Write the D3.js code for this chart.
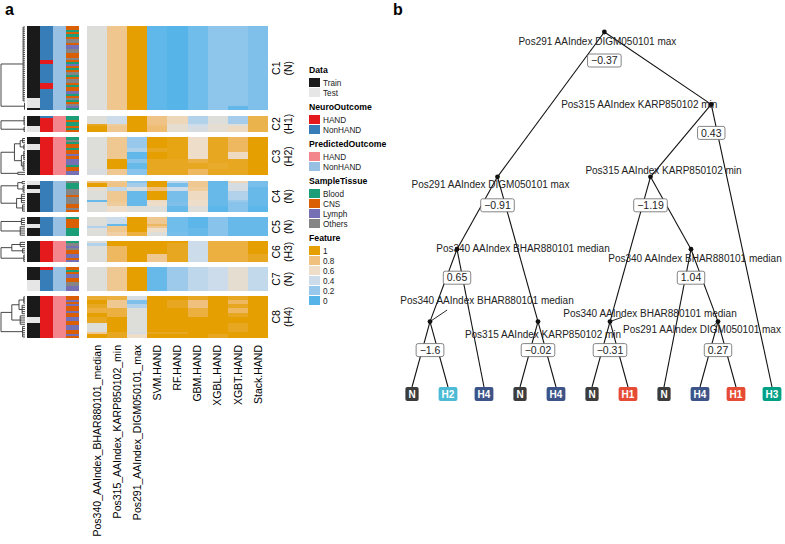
<!DOCTYPE html>
<html>
<head>
<meta charset="utf-8">
<script src="https://cdn.jsdelivr.net/npm/d3@7"></script>
<style>
  body { margin: 0; background: #fff; }
  svg { font-family: "Liberation Sans", Arial, Helvetica, sans-serif; }
</style>
</head>
<body>
<svg id="chart" width="785" height="544"></svg>
<script>
// ---------------- data: panel a ----------------
const clusterNames = ["C1", "C2", "C3", "C4", "C5", "C6", "C7", "C8"];
const clusterOutcomes = ["(N)", "(H1)", "(H2)", "(N)", "(N)", "(H3)", "(N)", "(H4)"];

const featureNames = [
    "Pos340_AAIndex_BHAR880101_median", "Pos315_AAIndex_KARP850102_min", "Pos291_AAIndex_DIGM050101_max",
    "SVM.HAND", "RF.HAND", "GBM.HAND", "XGBL.HAND", "XGBT.HAND", "Stack.HAND"
];

// one character per sample: T = Train, t = Test
const sampleData = [
    "TTTTTTTTTTTTTTTTTTTTTTTTTTTTTTTTTTtttttT",
    "TTTTTttt",
    "TTTtttTTTTTTTTTTTT",
    "ttTTttTTTTTTTTT",
    "TTTttTTTT",
    "TTTTTTTTTT",
    "TTTTTTttttt",
    "TTTTTTTTTTtttTTTTTTT"
];
// H = HAND, N = NonHAND
const sampleNeuro = [
    "NNNNNNNNNNNNNNNNHHNNNNNNNNNHHHNNNNNNNNNN",
    "NHHHHHHH",
    "HHHHHHHHHHHHHHHHHH",
    "NNNNNNNNNNNNNNN",
    "NNNNNNNNN",
    "HHHHHHHHHH",
    "HNNNNNNNNNN",
    "HHHHHHHHHHHHHHHHHHHH"
];
const samplePred = [
    "NNNNNNNNNNNNNNNNNNNNNNNNNNNNNNNNNNNNNNNN",
    "HHHHHHHH",
    "HHHHHHHHHHHHHHHHHH",
    "NNNNNNNNNNNNNNN",
    "NNNNNNNNN",
    "HHHHHHHHHH",
    "NNNNNNNNNNN",
    "HHHHHHHHHHHHHHHHHHHH"
];
// B = Blood, C = CNS, L = Lymph, O = Others
const sampleTissue = [
    "CCBCBCOOCLLOOCCOCBLCBCOBCOOCBCCLBCOBCOLB",
    "BBCBBCBC",
    "BOBCCBCCLCLLLBCCLL",
    "OBBBOOOCOOOCCOC",
    "BCCCCBBBB",
    "BOLOCCLLCL",
    "CBCLLCCOOLL",
    "CCLCLCCLCCLLCCLLCCLC"
];

// feature bands per cluster: [number of samples, then one value per feature]
const featureBands = [
    [[38, .5, .76, 1, .03, 0, .08, .17, .17, .12],
     [2, .5, .76, 1, .03, 0, .08, .17, .04, .12]],
    [[4, .5, .4, 1, .78, .64, .3, .5, .25, .88],
     [1, .95, .72, 1, .8, .55, .4, .55, .5, .88],
     [3, 1, .75, 1, .82, .55, .45, .54, .62, .88]],
    [[5, .5, .75, .2, 1, .97, .6, .95, .85, 1],
     [2, .5, .75, .28, .95, .97, .6, .95, .85, 1],
     [3, .5, .75, .03, 1, .97, .6, .95, .62, 1],
     [2, .5, 1, .15, .95, .95, .9, .95, .95, 1],
     [3, .5, 1, .05, .95, .95, .95, .93, .95, 1],
     [3, .47, .75, .15, .95, .95, .85, .95, .95, 1]],
    [[1, .8, .75, .15, 1, .35, .75, .05, .65, .1],
     [2, 1, .78, .25, 1, .1, .75, .05, .45, .1],
     [2, .55, .35, .5, .8, .4, .72, .05, .45, .05],
     [4, .5, .75, .05, 1, .1, .62, .05, .3, .05],
     [1, .05, .75, .05, .62, .1, .6, .05, .2, .05],
     [2, .5, .72, .05, .6, .12, .6, .05, .15, .05],
     [3, .5, .6, .5, .5, .05, .5, .02, .15, .02]],
    [[3, .5, .4, 1, .75, .08, .02, .15, .05, .05],
     [1, .5, .05, 1, .85, .08, .02, .15, .05, .05],
     [1, .3, .75, 1, .75, .08, .02, .15, .05, .05],
     [2, .5, .75, 1, .6, .08, .05, .15, .05, .05],
     [2, .5, .7, .9, .5, .1, .05, .15, .05, .05]],
    [[1, .5, 1, 1, 1, 1, .4, .9, .9, 1],
     [1, .3, 1, 1, 1, .95, .4, .9, .9, 1],
     [4, .5, .85, 1, 1, .95, .4, .9, .9, 1],
     [4, .5, .85, 1, .75, .95, .4, .9, .9, .95]],
    [[11, .5, .75, 1, .05, .22, .35, .4, .55, .36]],
    [[2, .92, .9, .45, 1, 1, .95, 1, .95, 1],
     [2, 1, .75, .12, 1, .95, .8, 1, .85, 1],
     [2, .95, .75, .3, 1, .95, .8, 1, .95, 1],
     [2, .9, .9, .5, 1, 1, .9, 1, .85, 1],
     [2, 1, .9, .5, 1, 1, .9, 1, .95, 1],
     [3, .95, 1, .5, 1, 1, 1, 1, 1, 1],
     [4, .5, 1, .5, 1, 1, 1, 1, .95, 1],
     [1, .75, .95, .45, .95, .95, 1, 1, 1, 1],
     [2, 1, .95, .6, 1, 1, 1, .95, 1, 1]]
];

// row dendrograms: [height, children...]; "a-b" = leaves a..b
const clusterTrees = [
    [1, [0.08, "0-35"], [0.02, "36-39"]],
    [1, [0.04, "0-4"], [0.04, "5-7"]],
    [1, [0.44, [0.2, [0.1, "0-2"], [0.05, "3-5"]], [0.15, [0.05, "6-10"], [0.08, "11-15"]]], [0.3, "16-17"]],
    [1, [0.3, [0.12, "0-1"], [0.08, "2-5"]], [0.35, [0.15, "6-10"], [0.1, "11-14"]]],
    [1, [0.15, "0-3"], [0.2, "4-8"]],
    [1, [0.55, [0.2, "0-2"], [0.1, "3-5"]], [0.05, "6-9"]],
    null,
    [1, [0.55, [0.25, [0.05, "0-3"], [0.12, "4-8"]], [0.2, "9-13"]], [0.1, "14-19"]]
];

const legendData = ["Train", "Test"];
const legendNeuro = ["HAND", "NonHAND"];
const legendPred = ["HAND", "NonHAND"];
const legendTissue = ["Blood", "CNS", "Lymph", "Others"];
const legendFeature = [1, 0.8, 0.6, 0.4, 0.2, 0];

// ---------------- data: panel b ----------------
const splitVars = ["Pos291 AAIndex DIGM050101 max", "Pos315 AAIndex KARP850102 min", "Pos340 AAIndex BHAR880101 median"];
// [split variable, split value, left, right]; strings are terminal classes
const decisionTree = [0, "\u22120.37",
    [0, "\u22120.91",
        [2, "0.65",
            [2, "\u22121.6", "N", "H2"],
            "H4"],
        [1, "\u22120.02", "N", "H4"]],
    [1, "0.43",
        [1, "\u22121.19",
            [2, "\u22120.31", "N", "H1"],
            [2, "1.04", "N", [0, "0.27", "H4", "H1"]]],
        "H3"]];

// ---------------- styles ----------------
const dataColor = { T: "#1a1a1a", t: "#e6e6e6" };
const outcomeColor = { H: "#e41a1c", N: "#377eb8" };
const predColor = { H: "#f2868c", N: "#98c0e2" };
const tissueColor = { B: "#1b9e77", C: "#d95f02", L: "#7570b3", O: "#858585" };
const classColor = { N: "#3c3c3c", H1: "#e64b35", H2: "#4dbbd5", H3: "#00a087", H4: "#3c5488" };
const featureColor = d3.scaleLinear()
    .domain([0, 0.2, 0.4, 0.6, 0.8, 1])
    .range(["#56b4e9", "#98c8eb", "#ccdceb", "#eeddc8", "#efc07e", "#e69f00"])
    .clamp(true);

// internal nodes in pre-order: label offset from node point
const labelOffsets = [[-7, 9], [-7, 8], [66, -1], [57, -21], [5, 13], [-72, 0], [13, -6], [40, -8], [4, 9], [-16, 8]];
const leaderNodes = [3, 7, 9];

const svg = d3.select("#chart");

svg.append("text").attr("x", 5).attr("y", 15).attr("font-size", 16).attr("font-weight", "bold").text("a");
svg.append("text").attr("x", 393).attr("y", 15).attr("font-size", 16).attr("font-weight", "bold").text("b");

// ---------------- panel a ----------------
const gapRows = 2.4;
const counts = sampleData.map((s) => s.length);
const starts = d3.cumsum([0].concat(counts)).slice(0, -1).map((v, i) => v + i * gapRows);
const totalRows = d3.sum(counts) + gapRows * (counts.length - 1);
const y = d3.scaleLinear().domain([0, totalRows]).range([26, 338]);

const annotX = d3.scaleBand().domain(["data", "neuro", "pred", "tissue"]).range([27, 79]);
const featX = d3.scaleBand().domain(featureNames).range([87, 268]);
const dendroX = d3.scaleLinear().domain([0, 1]).range([25, 1]);

const heat = svg.append("g").attr("shape-rendering", "crispEdges");
const annotCols = [
    ["data", sampleData, dataColor],
    ["neuro", sampleNeuro, outcomeColor],
    ["pred", samplePred, predColor],
    ["tissue", sampleTissue, tissueColor]
];

clusterNames.forEach((name, ci) => {
    const top = starts[ci];
    // annotation columns
    annotCols.forEach(([key, arr, cmap]) => {
        heat.append("g")
            .selectAll("rect")
            .data(arr[ci].split(""))
            .join("rect")
            .attr("x", annotX(key))
            .attr("width", annotX.bandwidth())
            .attr("y", (d, i) => y(top + i))
            .attr("height", (d, i) => y(top + i + 1) - y(top + i))
            .attr("fill", (d) => cmap[d]);
    });

    // feature heatmap
    let offset = top;
    featureBands[ci].forEach((band) => {
        const [n, ...vals] = band;
        heat.append("g")
            .selectAll("rect")
            .data(vals)
            .join("rect")
            .attr("x", (d, j) => featX(featureNames[j]))
            .attr("width", featX.bandwidth())
            .attr("y", y(offset))
            .attr("height", y(offset + n) - y(offset))
            .attr("fill", (d) => featureColor(d));
        offset += n;
    });

    // cluster labels
    const mid = (y(top) + y(top + counts[ci])) / 2;
    svg.append("text")
        .attr("transform", `translate(280,${mid}) rotate(-90)`)
        .attr("text-anchor", "middle")
        .attr("font-size", 10.5)
        .text(name);
    svg.append("text")
        .attr("transform", `translate(292,${mid}) rotate(-90)`)
        .attr("text-anchor", "middle")
        .attr("font-size", 10.5)
        .text(clusterOutcomes[ci]);

    // dendrogram
    if (clusterTrees[ci]) drawDendro(clusterTrees[ci], ci);
});

function drawDendro(node, ci) {
    const g = svg.append("g").attr("stroke", "#333").attr("stroke-width", 0.9).attr("fill", "none");
    const leafY = (i) => y(starts[ci] + i + 0.5);

    function walk(n) {
        if (typeof n === "number") return { x: dendroX(0), y: leafY(n) };
        const [h, ...kids] = n;
        let children = [];
        kids.forEach((k) => {
            if (typeof k === "string") {
                const [a, b] = k.split("-").map(Number);
                d3.range(a, b + 1).forEach((i) => children.push(walk(i)));
            } else {
                children.push(walk(k));
            }
        });
        const nx = dendroX(h);
        const ys = children.map((c) => c.y);
        g.append("line").attr("x1", nx).attr("x2", nx).attr("y1", d3.min(ys)).attr("y2", d3.max(ys));
        children.forEach((c) => {
            g.append("line").attr("x1", nx).attr("x2", c.x).attr("y1", c.y).attr("y2", c.y);
        });
        return { x: nx, y: (d3.min(ys) + d3.max(ys)) / 2 };
    }
    walk(node);
}

// column labels
svg.append("g")
    .selectAll("text")
    .data(featureNames)
    .join("text")
    .attr("transform", (d) => `translate(${featX(d) + featX.bandwidth() / 2},345) rotate(-90)`)
    .attr("text-anchor", "end")
    .attr("dy", "0.35em")
    .attr("font-size", 10.5)
    .text((d) => d);

// legend
const legend = svg.append("g").attr("transform", "translate(309,0)");
const legendGroups = [
    ["Data", legendData.map((d, i) => [d, dataColor[["T", "t"][i]]])],
    ["NeuroOutcome", legendNeuro.map((d) => [d, outcomeColor[d[0] === "H" ? "H" : "N"]])],
    ["PredictedOutcome", legendPred.map((d) => [d, predColor[d[0] === "H" ? "H" : "N"]])],
    ["SampleTissue", legendTissue.map((d) => [d, tissueColor[d[0]]])],
    ["Feature", legendFeature.map((d) => [String(d), featureColor(d)])]
];
let ly = 70;
legendGroups.forEach(([title, items]) => {
    legend.append("text").attr("x", 0).attr("y", ly).attr("dy", "0.35em")
        .attr("font-size", 8.7).attr("font-weight", "bold").text(title);
    items.forEach(([label, color], i) => {
        const cy = ly + 13 + i * 10;
        legend.append("rect").attr("x", 0).attr("y", cy - 5).attr("width", 11).attr("height", 9).attr("fill", color);
        legend.append("text").attr("x", 14).attr("y", cy).attr("dy", "0.35em")
            .attr("font-size", 8.2).attr("fill", "#222").text(label);
    });
    ly += 13 + (items.length - 1) * 10 + 14;
});

// ---------------- panel b ----------------
const root = d3.hierarchy(decisionTree, (d) => (Array.isArray(d) ? d.slice(2) : null));
d3.cluster().size([396, 1]).separation(() => 1)(root);
const treeX = (d) => d.x + 394;
const treeY = d3.scaleLinear().domain([root.height, 0]).range([32, 394]);
const leafTop = treeY(0) - 7;

const tb = svg.append("g");
tb.append("g")
    .attr("stroke", "#111")
    .attr("stroke-width", 1.1)
    .selectAll("line")
    .data(root.links())
    .join("line")
    .attr("x1", (d) => treeX(d.source))
    .attr("y1", (d) => treeY(d.source.height))
    .attr("x2", (d) => treeX(d.target))
    .attr("y2", (d) => (d.target.children ? treeY(d.target.height) : leafTop));

const internals = root.descendants().filter((d) => d.children);
// pre-order for label offsets
const preorder = [];
root.eachBefore((d) => { if (d.children) preorder.push(d); });

preorder.forEach((d, i) => {
    const nx = treeX(d), ny = treeY(d.height);
    const [ox, oy] = labelOffsets[i];
    if (leaderNodes.includes(i)) {
        tb.append("line")
            .attr("x1", nx).attr("y1", ny)
            .attr("x2", nx + ox * 0.3).attr("y2", ny + oy * 0.55)
            .attr("stroke", "#111").attr("stroke-width", 0.9);
    }
    tb.append("text")
        .attr("x", nx + ox).attr("y", ny + oy).attr("dy", "0.35em")
        .attr("text-anchor", "middle")
        .attr("font-size", 10)
        .attr("fill", "#222")
        .text(splitVars[d.data[0]]);
});

tb.append("g")
    .selectAll("circle")
    .data(internals)
    .join("circle")
    .attr("cx", (d) => treeX(d))
    .attr("cy", (d) => treeY(d.height))
    .attr("r", 2.4)
    .attr("fill", "#111");

// split value boxes
internals.forEach((d) => {
    const cx = treeX(d), cy = treeY(d.height) + 28.5;
    const g = tb.append("g");
    const t = g.append("text")
        .attr("x", cx).attr("y", cy).attr("dy", "0.35em")
        .attr("text-anchor", "middle")
        .attr("font-size", 10.5)
        .attr("fill", "#222")
        .text(d.data[1]);
    const w = t.node().getComputedTextLength() + 7;
    g.insert("rect", "text")
        .attr("x", cx - w / 2).attr("y", cy - 6.5)
        .attr("width", w).attr("height", 13)
        .attr("rx", 2)
        .attr("fill", "#fff")
        .attr("stroke", "#666")
        .attr("stroke-width", 0.8);
});

// terminal class boxes
root.leaves().forEach((d) => {
    const cx = treeX(d), cy = treeY(0);
    const g = tb.append("g");
    const t = g.append("text")
        .attr("x", cx).attr("y", cy).attr("dy", "0.35em")
        .attr("text-anchor", "middle")
        .attr("font-size", 10)
        .attr("font-weight", "bold")
        .attr("fill", "#fff")
        .text(d.data);
    const w = t.node().getComputedTextLength() + 6;
    g.insert("rect", "text")
        .attr("x", cx - w / 2).attr("y", cy - 7)
        .attr("width", w).attr("height", 14)
        .attr("rx", 2)
        .attr("fill", classColor[d.data]);
});
</script>
</body>
</html>
